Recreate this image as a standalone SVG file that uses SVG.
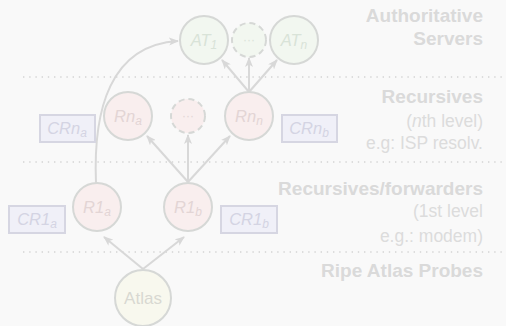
<svg xmlns="http://www.w3.org/2000/svg" width="506" height="326" viewBox="0 0 506 326">
<style>
.bg{fill:#f9f9f9}
.sep{stroke:#d4d4d4;stroke-width:1.4;stroke-dasharray:1.4 4.8;fill:none}
.edge{stroke:#d8d8d8;stroke-width:2;fill:none}
.c{stroke:#d6d8d6;stroke-width:2}
.dash{stroke-dasharray:6 4}
.at{fill:#f2f7f0}
.rn{fill:#f9eeee}
.atlas{fill:#f8f8ee}
.box{fill:#f0f0f8;stroke:#d6d6e2;stroke-width:2}
.lbl{font-family:"Liberation Sans",Arial,sans-serif;font-style:italic;font-size:16.5px;text-anchor:middle}
.up{font-style:normal}
.dots{font-size:12px}
.lat{fill:#d9e3d8}
.lrn{fill:#e3d5d5}
.lbx{fill:#d4d4e3}
.sub{font-size:12px}
.hd{font-family:"Liberation Sans",Arial,sans-serif;font-weight:bold;font-size:19px;fill:#dadada;text-anchor:end}
.tx{font-family:"Liberation Sans",Arial,sans-serif;font-size:17.5px;fill:#dcdcdc;text-anchor:end}
</style>
<defs>
<marker id="ah" viewBox="0 0 10 8" refX="9" refY="4" markerWidth="10" markerHeight="8" markerUnits="userSpaceOnUse" orient="auto">
<path d="M0,0 L10,4 L0,8 L2.5,4 z" fill="#d8d8d8"/>
</marker>
</defs>
<rect class="bg" x="0" y="0" width="506" height="326"/>
<g id="separators">
<line class="sep" x1="23" y1="77" x2="506" y2="77"/>
<line class="sep" x1="23" y1="162" x2="506" y2="162"/>
<line class="sep" x1="23" y1="252" x2="506" y2="252"/>
</g>
<g id="labels">
<text class="hd" x="483" y="22">Authoritative</text>
<text class="hd" x="483" y="45">Servers</text>
<text class="hd" x="483" y="103">Recursives</text>
<text class="tx" x="483" y="127">(<tspan style="font-style:italic">n</tspan>th level)</text>
<text class="tx" x="483" y="149">e.g: ISP resolv.</text>
<text class="hd" x="483" y="195">Recursives/forwarders</text>
<text class="tx" x="483" y="217">(1st level</text>
<text class="tx" x="483" y="242">e.g.: modem)</text>
<text class="hd" x="483" y="277">Ripe Atlas Probes</text>
</g>
<g id="connectors">
<line class="edge" x1="143" y1="269" x2="104" y2="237" marker-end="url(#ah)"/>
<line class="edge" x1="143" y1="269" x2="184" y2="237" marker-end="url(#ah)"/>
<line class="edge" x1="188" y1="182" x2="147" y2="136" marker-end="url(#ah)"/>
<line class="edge" x1="188" y1="182" x2="188" y2="135" marker-end="url(#ah)"/>
<line class="edge" x1="188" y1="182" x2="230" y2="136" marker-end="url(#ah)"/>
<line class="edge" x1="249" y1="92" x2="222" y2="60" marker-end="url(#ah)"/>
<line class="edge" x1="249" y1="92" x2="249" y2="58" marker-end="url(#ah)"/>
<line class="edge" x1="249" y1="92" x2="277" y2="60" marker-end="url(#ah)"/>
<path class="edge" d="M96,183 C93,110 110,45 178,41" marker-end="url(#ah)"/>
</g>
<g id="AT1"><circle class="c at" cx="204" cy="40" r="24"/><text class="lbl lat" x="204" y="46">AT<tspan class="sub" dy="3">1</tspan></text></g>
<g id="ATdots"><circle class="c at dash" cx="249" cy="40" r="17"/><text class="lbl lat up dots" x="249" y="44">···</text></g>
<g id="ATn"><circle class="c at" cx="294" cy="40" r="24"/><text class="lbl lat" x="294" y="46">AT<tspan class="sub" dy="3">n</tspan></text></g>
<g id="Rna"><circle class="c rn" cx="128" cy="116" r="24"/><text class="lbl lrn" x="128" y="122">Rn<tspan class="sub" dy="3">a</tspan></text></g>
<g id="Rndots"><circle class="c rn dash" cx="188" cy="116" r="17"/><text class="lbl lrn up dots" x="188" y="120">···</text></g>
<g id="Rnn"><circle class="c rn" cx="249" cy="116" r="24"/><text class="lbl lrn" x="249" y="122">Rn<tspan class="sub" dy="3">n</tspan></text></g>
<g id="CRna"><rect class="box" x="40" y="115" width="55" height="27"/><text class="lbl lbx" x="67" y="134">CRn<tspan class="sub" dy="3">a</tspan></text></g>
<g id="CRnb"><rect class="box" x="282" y="115" width="55" height="27"/><text class="lbl lbx" x="309" y="134">CRn<tspan class="sub" dy="3">b</tspan></text></g>
<g id="R1a"><circle class="c rn" cx="97" cy="207" r="24"/><text class="lbl lrn" x="97" y="213">R1<tspan class="sub" dy="3">a</tspan></text></g>
<g id="R1b"><circle class="c rn" cx="188" cy="207" r="24"/><text class="lbl lrn" x="188" y="213">R1<tspan class="sub" dy="3">b</tspan></text></g>
<g id="CR1a"><rect class="box" x="9" y="206" width="56" height="27"/><text class="lbl lbx" x="37" y="225">CR1<tspan class="sub" dy="3">a</tspan></text></g>
<g id="CR1b"><rect class="box" x="221" y="206" width="56" height="27"/><text class="lbl lbx" x="249" y="225">CR1<tspan class="sub" dy="3">b</tspan></text></g>
<g id="Atlas"><circle class="c atlas" cx="143" cy="298" r="28"/><text class="lbl up" x="143" y="304" style="font-size:17px;fill:#d8d8d2">Atlas</text></g>
</svg>
